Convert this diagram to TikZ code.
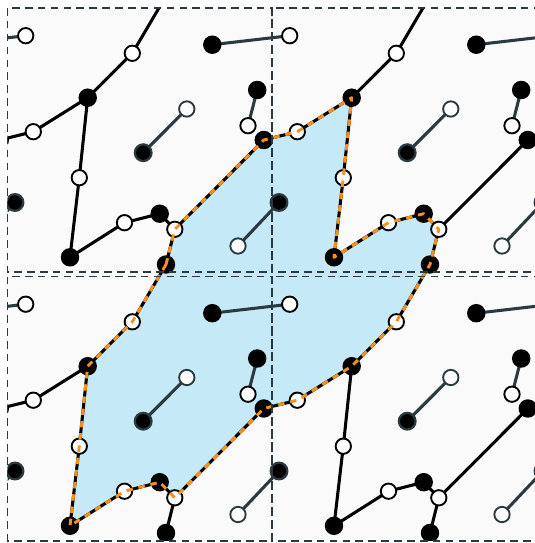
\documentclass[tikz,border=0pt]{standalone}
\definecolor{cellbg}{HTML}{FAFAFA}
\definecolor{loopblue}{HTML}{C6E9F8}
\definecolor{loopline}{HTML}{F7901E}
\definecolor{slategrey}{HTML}{2B3A40}
\tikzset{
  blacknode/.style={circle, fill=black, draw=black, line width=1.5pt, minimum size=0.5cm, inner sep=0pt},
  whitenode/.style={circle, fill=white, draw=black, line width=1.6pt, minimum size=0.46cm, inner sep=0pt},
  greyblack/.style={blacknode, draw=slategrey, line width=1.9pt},
  greywhite/.style={whitenode, draw=slategrey},
  bond/.style={line width=2.6pt, black},
  dimer/.style={line width=2.6pt, slategrey},
  celledge/.style={draw=slategrey, line width=1.7pt, dash pattern=on 6.5pt off 4.5pt},
  loopedge/.style={draw=loopline, line width=2.5pt, dash pattern=on 5.5pt off 5pt, line join=round}
}
\begin{document}
\begin{tikzpicture}[x=0.03cm, y=-0.03cm]
\useasboundingbox (0,0) rectangle (534,543);
% cell backgrounds
\foreach \i in {0,1}{\foreach \j in {0,1}{
  \fill[cellbg] ({7.5+\i*264},{8+\j*268.5}) rectangle +(264,264);
}}
% sites, copied over 4x4 cells (index 1 = top left cell)
\foreach \i in {0,...,3}{\foreach \j in {0,...,3}{
  \begin{scope}[shift={({(\i-1)*264},{(\j-1)*268.5})}]
    \coordinate (Ba-\i-\j) at (212.3,44.7);
    \coordinate (Bb-\i-\j) at (87.7,97.7);
    \coordinate (Bc-\i-\j) at (257.2,90);
    \coordinate (Bd-\i-\j) at (143.2,152.7);
    \coordinate (Be-\i-\j) at (15,202.5);
    \coordinate (Bf-\i-\j) at (159.7,213.7);
    \coordinate (Bg-\i-\j) at (70,257.3);
    \coordinate (Bh-\i-\j) at (166,264.5);
    \coordinate (Bi-\i-\j) at (263.8,140);
    \coordinate (Wa-\i-\j) at (25.7,35.7);
    \coordinate (Wb-\i-\j) at (132.3,53.3);
    \coordinate (Wc-\i-\j) at (33.3,131.7);
    \coordinate (Wd-\i-\j) at (186.8,109);
    \coordinate (We-\i-\j) at (248,125.7);
    \coordinate (Wf-\i-\j) at (79.3,177.7);
    \coordinate (Wg-\i-\j) at (124.5,222.7);
    \coordinate (Wh-\i-\j) at (174.8,229.3);
    \coordinate (Wi-\i-\j) at (238,246);
  \end{scope}
}}
\begin{scope}
\clip (7.5,8) rectangle (536,540.7);
% the loop
\fill[loopblue] (Bh-1-1) -- (Wh-1-1) -- (Bi-1-1) -- (Wc-2-1) -- (Bb-2-1) -- (Wf-2-1) -- (Bg-2-1) -- (Wg-2-1)
  -- (Bf-2-1) -- (Wh-2-1) -- (Bh-2-1) -- (Wb-2-2) -- (Bb-2-2) -- (Wc-2-2) -- (Bi-1-2) -- (Wh-1-2)
  -- (Bf-1-2) -- (Wg-1-2) -- (Bg-1-2) -- (Wf-1-2) -- (Bb-1-2) -- (Wb-1-2) -- cycle;
% bonds inside a cell
\foreach \i in {0,...,3}{\foreach \j in {0,...,3}{
  \draw[bond] (Wb-\i-\j) -- (Bb-\i-\j) -- (Wc-\i-\j);
  \draw[bond] (Bb-\i-\j) -- (Wf-\i-\j) -- (Bg-\i-\j) -- (Wg-\i-\j) -- (Bf-\i-\j) -- (Wh-\i-\j) -- (Bh-\i-\j);
  \draw[bond] (Wh-\i-\j) -- (Bi-\i-\j);
  \draw[dimer] (Bc-\i-\j) -- (We-\i-\j);
  \draw[dimer] (Bd-\i-\j) -- (Wd-\i-\j);
}}
% bonds to the next cell
\foreach \i [evaluate=\i as \ni using int(\i+1)] in {0,1,2}{\foreach \j in {0,...,3}{
  \draw[bond] (Bi-\i-\j) -- (Wc-\ni-\j);
  \draw[dimer] (Ba-\i-\j) -- (Wa-\ni-\j);
  \draw[dimer] (Wi-\i-\j) -- (Be-\ni-\j);
}}
\foreach \j [evaluate=\j as \nj using int(\j+1)] in {0,1,2}{\foreach \i in {0,...,3}{
  \draw[bond] (Bh-\i-\j) -- (Wb-\i-\nj);
}}
% sites
\foreach \i in {0,...,3}{\foreach \j in {0,...,3}{
  \foreach \s in {Ba,Bb,Bc,Bf,Bg,Bh,Bi}{\node[blacknode] (n\s-\i-\j) at (\s-\i-\j) {};}
  \foreach \s in {Bd,Be}{\node[greyblack] (n\s-\i-\j) at (\s-\i-\j) {};}
  \foreach \s in {Wa,Wb,Wc,We,Wf,Wg,Wh}{\node[whitenode] (n\s-\i-\j) at (\s-\i-\j) {};}
  \foreach \s in {Wd,Wi}{\node[greywhite] (n\s-\i-\j) at (\s-\i-\j) {};}
}}
\draw[loopedge] (Bh-1-1) -- (Wh-1-1) -- (Bi-1-1) -- (Wc-2-1) -- (Bb-2-1) -- (Wf-2-1) -- (Bg-2-1) -- (Wg-2-1)
  -- (Bf-2-1) -- (Wh-2-1) -- (Bh-2-1) -- (Wb-2-2) -- (Bb-2-2) -- (Wc-2-2) -- (Bi-1-2) -- (Wh-1-2)
  -- (Bf-1-2) -- (Wg-1-2) -- (Bg-1-2) -- (Wf-1-2) -- (Bb-1-2) -- (Wb-1-2) -- cycle;
\end{scope}
% cell borders
\foreach \i in {0,1}{\foreach \j in {0,1}{
  \draw[celledge] ({7.5+\i*264},{8+\j*268.5}) rectangle +(264,264);
}}
\end{tikzpicture}
\end{document}
